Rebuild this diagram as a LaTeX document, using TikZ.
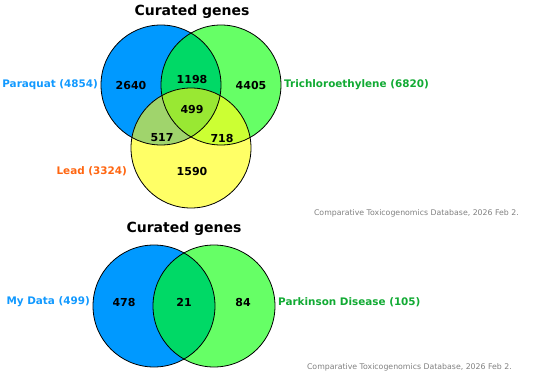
\documentclass[tikz,border=0pt]{standalone}
\usepackage{fontspec}
\setmainfont{DejaVu Sans}
\usepackage{tikz}
\usetikzlibrary{positioning}
\definecolor{pqblue}{RGB}{0,153,255}
\definecolor{tcgreen}{RGB}{102,255,102}
\definecolor{ldyellow}{RGB}{255,255,102}
\definecolor{pqtc}{RGB}{0,217,102}
\definecolor{pqld}{RGB}{160,212,108}
\definecolor{tcld}{RGB}{204,255,51}
\definecolor{pqtcld}{RGB}{153,232,51}
\definecolor{lblblue}{RGB}{17,153,255}
\definecolor{lblgreen}{RGB}{17,170,51}
\definecolor{lblorange}{RGB}{255,102,17}
\definecolor{citegray}{RGB}{128,128,128}

\begin{document}
\begin{tikzpicture}[x=1pt,y=-1pt,
	count/.style={font=\bfseries\fontsize{11}{13}\selectfont},
	setlbl/.style={inner sep=0pt,font=\bfseries\fontsize{10.4}{12}\selectfont},
	title/.style={font=\bfseries\fontsize{14}{16}\selectfont},
	cite/.style={inner sep=0pt,font=\fontsize{7.8}{9}\selectfont,text=citegray},
	rim/.style={draw=black,line width=0.8pt}]
	\useasboundingbox (0,0) rectangle (550,375);
	% three sets
	\coordinate (pq) at (161,85); \coordinate (tc) at (221,85); \coordinate (ld) at (191,148);
	\foreach \c/\col in {pq/pqblue,tc/tcgreen,ld/ldyellow}{\fill[\col] (\c) circle[radius=60pt];}
	\begin{scope}\clip (pq) circle[radius=60pt]; \fill[pqtc] (tc) circle[radius=60pt]; \fill[pqld] (ld) circle[radius=60pt];\end{scope}
	\begin{scope}\clip (tc) circle[radius=60pt]; \fill[tcld] (ld) circle[radius=60pt];\end{scope}
	\begin{scope}\clip (pq) circle[radius=60pt]; \clip (tc) circle[radius=60pt]; \fill[pqtcld] (ld) circle[radius=60pt];\end{scope}
	\foreach \c in {pq,tc,ld}{\draw[rim] (\c) circle[radius=60pt];}
	\node[title] (title1) at (192,12) {Curated genes};
	\foreach \n/\x/\y in {2640/131/85,1198/192/79,4405/251/85,499/192/110,517/162/138,718/222/138,1590/192/171}{\node[count] (n\n) at (\x,\y) {\n};}
	\node[setlbl,text=lblblue,anchor=east] (lpq) at (98,85) {Paraquat (4854)};
	\node[setlbl,text=lblgreen,anchor=west] (ltc) at (284,85) {Trichloroethylene (6820)};
	\node[setlbl,text=lblorange,anchor=east] (lld) at (127,171) {Lead (3324)};
	\node[cite,anchor=east] (cite1) at (519,213) {Comparative Toxicogenomics Database, 2026 Feb 2.};
	% two sets
	\coordinate (md) at (154,306); \coordinate (pd) at (214,306);
	\fill[pqblue] (md) circle[radius=61pt]; \fill[tcgreen] (pd) circle[radius=61pt];
	\begin{scope}\clip (md) circle[radius=61pt]; \fill[pqtc] (pd) circle[radius=61pt];\end{scope}
	\foreach \c in {md,pd}{\draw[rim] (\c) circle[radius=61pt];}
	\node[title] (title2) at (184,229) {Curated genes};
	\foreach \n/\x in {478/124,21/184,84/243}{\node[count] (m\n) at (\x,302) {\n};}
	\node[setlbl,text=lblblue,anchor=east] (lmd) at (90,302) {My Data (499)};
	\node[setlbl,text=lblgreen,anchor=west] (lpd) at (278,302) {Parkinson Disease (105)};
	\node[cite,anchor=east] (cite2) at (512,367) {Comparative Toxicogenomics Database, 2026 Feb 2.};
\end{tikzpicture}
\end{document}
